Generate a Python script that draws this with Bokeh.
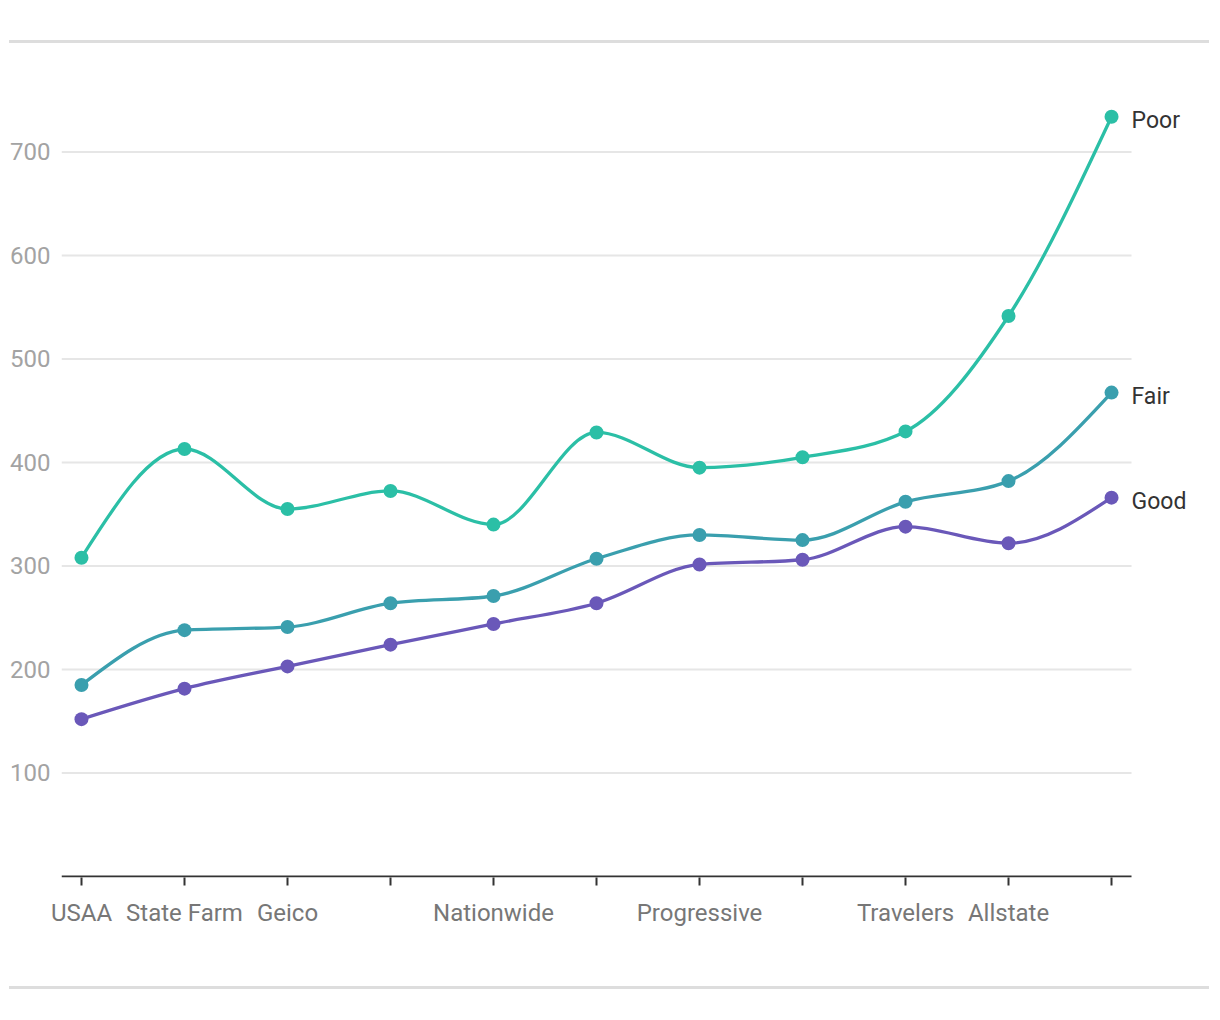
import numpy as np
from bokeh.plotting import figure
from bokeh.models import FixedTicker, Div, ColumnDataSource, Range1d
from bokeh.layouts import column
from bokeh.core.properties import value
from bokeh.embed import file_html
from bokeh.resources import INLINE

# ---- data ----
tick_labels = ["USAA", "State Farm", "Geico", "", "Nationwide", "", "Progressive", "", "Travelers", "Allstate", ""]
series_names = ["Poor", "Fair", "Good"]
poor = [308, 413, 355, 372.5, 340, 429, 395, 405, 430, 541.5, 734]
fair = [185, 238, 241, 264, 271, 307, 330, 325, 362, 382, 467.5]
good = [152, 181.5, 203, 224, 244, 264, 301.5, 306, 338, 322, 366]
colors = ["#2bbfa6", "#3a9fae", "#6a58b9"]
y_ticks = [100, 200, 300, 400, 500, 600, 700]

FONT = "Roboto"


def monotone_beziers(xs, ys):
    """d3 curveMonotoneX control points."""
    xs = np.asarray(xs, float)
    ys = np.asarray(ys, float)
    n = len(xs)
    t = np.zeros(n)
    for i in range(1, n - 1):
        h0 = xs[i] - xs[i - 1]
        h1 = xs[i + 1] - xs[i]
        s0 = (ys[i] - ys[i - 1]) / h0
        s1 = (ys[i + 1] - ys[i]) / h1
        p = (s0 * h1 + s1 * h0) / (h0 + h1)
        t[i] = (np.sign(s0) + np.sign(s1)) * min(abs(s0), abs(s1), 0.5 * abs(p))
    h = xs[1] - xs[0]
    t[0] = (3 * (ys[1] - ys[0]) / h - t[1]) / 2
    h = xs[-1] - xs[-2]
    t[-1] = (3 * (ys[-1] - ys[-2]) / h - t[-2]) / 2
    x0, y0, x1, y1, cx0, cy0, cx1, cy1 = [], [], [], [], [], [], [], []
    for i in range(n - 1):
        dx = (xs[i + 1] - xs[i]) / 3
        x0.append(xs[i]); y0.append(ys[i])
        x1.append(xs[i + 1]); y1.append(ys[i + 1])
        cx0.append(xs[i] + dx); cy0.append(ys[i] + dx * t[i])
        cx1.append(xs[i + 1] - dx); cy1.append(ys[i + 1] - dx * t[i + 1])
    return dict(x0=x0, y0=y0, x1=x1, y1=y1, cx0=cx0, cy0=cy0, cx1=cx1, cy1=cy1)


xs = list(range(len(tick_labels)))
PAD = 0.194                     # axis padding on each side, in category units
x_lo, x_hi = xs[0] - PAD, xs[-1] + PAD
x_frame_hi = xs[-1] + PAD + 0.66  # extra room inside frame for end labels

p = figure(
    frame_width=1138, frame_height=798,
    x_range=Range1d(x_lo, x_frame_hi), y_range=Range1d(-0.97, 770),
    output_backend="svg", toolbar_location=None,
    min_border_left=61, min_border_right=5, min_border_top=36, min_border_bottom=83,
    background_fill_color="white", border_fill_color="white",
)
p.outline_line_color = None
p.xgrid.grid_line_color = None
p.ygrid.grid_line_color = None

# gridlines limited to the axis span
p.segment(x0=[x_lo] * len(y_ticks), x1=[x_hi] * len(y_ticks), y0=y_ticks, y1=y_ticks,
          line_color="#e6e6e6", line_width=2)
# x axis baseline
p.segment(x0=[x_lo], x1=[x_hi], y0=[0], y1=[0], line_color="#333333", line_width=2)

p.yaxis.ticker = FixedTicker(ticks=y_ticks)
p.yaxis.axis_line_color = None
p.yaxis.major_tick_line_color = None
p.yaxis.minor_tick_line_color = None
p.yaxis.major_label_text_color = "#a3a3a3"
p.yaxis.major_label_text_font = FONT
p.yaxis.major_label_text_font_size = "24px"
p.yaxis.major_label_standoff = 5

p.xaxis.ticker = FixedTicker(ticks=xs)
p.xaxis.major_label_overrides = {i: lab for i, lab in enumerate(tick_labels)}
p.xaxis.axis_line_color = None
p.xaxis.major_tick_line_color = "#333333"
p.xaxis.major_tick_line_width = 2
p.xaxis.major_tick_out = 8
p.xaxis.major_tick_in = 0
p.xaxis.minor_tick_line_color = None
p.xaxis.major_label_text_color = "#777777"
p.xaxis.major_label_text_font = FONT
p.xaxis.major_label_text_font_size = "24px"
p.xaxis.major_label_standoff = 13

for name, vals, col in zip(series_names, [poor, fair, good], colors):
    src = ColumnDataSource(monotone_beziers(xs, vals))
    p.bezier(x0="x0", y0="y0", x1="x1", y1="y1", cx0="cx0", cy0="cy0", cx1="cx1", cy1="cy1",
             source=src, line_color=col, line_width=3.3)
    p.scatter(xs, vals, size=14, fill_color=col, line_color=col, line_width=0)
    p.text([xs[-1]], [vals[-1]], text=[name], x_offset=20, y_offset=4,
           text_baseline="middle", text_align="left", text_color="#333333",
           text_font=value(FONT), text_font_size="23px")

top = Div(text="", width=1200, height=40,
          styles={"border-bottom": "3px solid #dddddd", "box-sizing": "content-box"},
          margin=(0, 0, 0, 9))
bottom = Div(text="", width=1200, height=26,
             styles={"border-bottom": "3px solid #dddddd", "box-sizing": "content-box"},
             margin=(0, 0, 0, 9))

layout = column(top, p, bottom, spacing=0)
open("out.html", "w").write(file_html(layout, INLINE))
